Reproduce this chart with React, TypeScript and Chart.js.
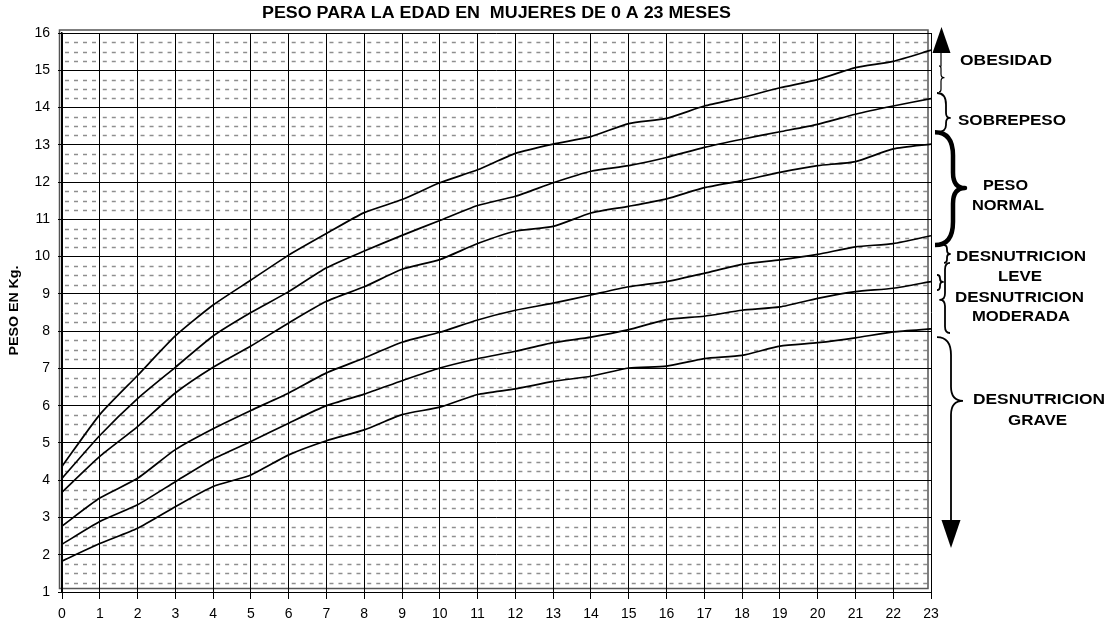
import React, { useEffect, useRef } from 'react';
import { Chart, registerables } from 'chart.js';

Chart.register(...registerables);

// ---- data ----
const months = [0, 1, 2, 3, 4, 5, 6, 7, 8, 9, 10, 11, 12, 13, 14, 15, 16, 17, 18, 19, 20, 21, 22, 23];
const curveObesidad = [4.37, 5.76, 6.81, 7.87, 8.7, 9.37, 10.04, 10.62, 11.18, 11.53, 11.98, 12.33, 12.77, 13.02, 13.22, 13.57, 13.71, 14.04, 14.27, 14.53, 14.75, 15.07, 15.24, 15.54];
const curveSobrepeso = [4.05, 5.2, 6.19, 7.03, 7.87, 8.5, 9.06, 9.7, 10.15, 10.57, 10.97, 11.37, 11.62, 11.98, 12.29, 12.44, 12.66, 12.93, 13.15, 13.35, 13.55, 13.82, 14.04, 14.24];
const curveNormalAlto = [3.68, 4.64, 5.44, 6.34, 7.03, 7.6, 8.22, 8.8, 9.19, 9.66, 9.92, 10.35, 10.68, 10.81, 11.17, 11.35, 11.55, 11.85, 12.04, 12.26, 12.44, 12.55, 12.89, 13.02];
const curveNormalBajo = [2.77, 3.52, 4.05, 4.82, 5.38, 5.87, 6.34, 6.88, 7.28, 7.7, 7.97, 8.3, 8.56, 8.75, 8.97, 9.19, 9.33, 9.55, 9.79, 9.91, 10.06, 10.26, 10.35, 10.56];
const curveModerada = [2.28, 2.89, 3.34, 3.96, 4.57, 5.04, 5.53, 6.0, 6.31, 6.67, 7.01, 7.26, 7.46, 7.69, 7.84, 8.04, 8.31, 8.4, 8.56, 8.65, 8.88, 9.06, 9.15, 9.33];
const curveGrave = [1.83, 2.3, 2.71, 3.29, 3.83, 4.14, 4.68, 5.06, 5.35, 5.76, 5.96, 6.3, 6.45, 6.65, 6.79, 7.01, 7.06, 7.26, 7.35, 7.6, 7.69, 7.82, 7.98, 8.06];
const curves = [curveObesidad, curveSobrepeso, curveNormalAlto, curveNormalBajo, curveModerada, curveGrave];

const yMin = 1;
const yMax = 16;
const xMin = 0;
const xMax = 23;

const TITLE = 'PESO PARA LA EDAD EN  MUJERES DE 0 A 23 MESES';
const Y_TITLE = 'PESO EN Kg.';

// annotation labels: text, x offset from plot right edge, y in kg units, target width
const labelTexts = ['OBESIDAD', 'SOBREPESO', 'PESO', 'NORMAL', 'DESNUTRICION', 'LEVE', 'DESNUTRICION', 'MODERADA', 'DESNUTRICION', 'GRAVE'];
const labelDx = [75, 81, 74.5, 77, 90, 89, 88.5, 90, 108, 106.5];
const labelKg = [15.25, 13.64, 11.89, 11.36, 9.99, 9.45, 8.89, 8.38, 6.15, 5.59];
const labelW = [92, 108, 45, 72, 130, 44, 129, 98, 132, 59];

const FONT = '"Liberation Sans", Arial, Helvetica, sans-serif';

function fitText(ctx: CanvasRenderingContext2D, text: string, cx: number, cy: number, width: number, size: number) {
  ctx.save();
  ctx.font = `bold ${size}px ${FONT}`;
  ctx.textAlign = 'center';
  ctx.textBaseline = 'middle';
  const m = ctx.measureText(text).width || 1;
  ctx.translate(cx, cy);
  ctx.scale(width / m, 1);
  ctx.fillText(text, 0, 0);
  ctx.restore();
}

function brace(ctx: CanvasRenderingContext2D, xEnd: number, xSpine: number, xTip: number, y1: number, yTip: number, y2: number, lw: number) {
  const dEnd = Math.abs(xSpine - xEnd);
  const dTip = Math.abs(xTip - xSpine);
  const h1 = (yTip - y1) / 2;
  const h2 = (y2 - yTip) / 2;
  const ra = Math.min(dEnd * 1.3, h1);
  const rb = Math.min(dTip * 1.3, h1);
  const rc = Math.min(dTip * 1.3, h2);
  const rd = Math.min(dEnd * 1.3, h2);
  ctx.save();
  ctx.lineWidth = lw;
  ctx.strokeStyle = '#000';
  ctx.lineJoin = 'round';
  ctx.beginPath();
  ctx.moveTo(xEnd, y1);
  ctx.quadraticCurveTo(xSpine, y1, xSpine, y1 + ra);
  ctx.lineTo(xSpine, yTip - rb);
  ctx.quadraticCurveTo(xSpine, yTip, xTip, yTip);
  ctx.quadraticCurveTo(xSpine, yTip, xSpine, yTip + rc);
  ctx.lineTo(xSpine, y2 - rd);
  ctx.quadraticCurveTo(xSpine, y2, xEnd, y2);
  ctx.stroke();
  ctx.restore();
}

function arrowHead(ctx: CanvasRenderingContext2D, cx: number, tipY: number, baseY: number, hw: number) {
  ctx.beginPath();
  ctx.moveTo(cx, tipY);
  ctx.lineTo(cx - hw, baseY);
  ctx.lineTo(cx + hw, baseY);
  ctx.closePath();
  ctx.fill();
}

const decor = {
  id: 'decor',
  beforeDraw(chart: any) {
    const { ctx, chartArea: a, scales } = chart;
    const xs = scales.x;
    const ys = scales.y;
    ctx.save();
    ctx.fillStyle = '#fff';
    ctx.fillRect(0, 0, chart.width, chart.height);
    // minor dashed grid (quarter kg)
    ctx.strokeStyle = '#8e8e8e';
    ctx.lineWidth = 1.3;
    ctx.setLineDash([4, 5]);
    for (let v = yMin; v < yMax; v += 1) {
      for (let k = 1; k < 4; k++) {
        const y = Math.round(ys.getPixelForValue(v + k / 4)) + 0.5;
        for (let m = xMin; m < xMax; m++) {
          const x0 = xs.getPixelForValue(m) + 3;
          const x1 = xs.getPixelForValue(m + 1) - 1;
          ctx.beginPath();
          ctx.moveTo(x0, y);
          ctx.lineTo(x1, y);
          ctx.stroke();
        }
      }
    }
    ctx.setLineDash([]);
    // shadow frame of the plot area
    ctx.strokeStyle = '#555';
    ctx.lineWidth = 1.5;
    ctx.strokeRect(a.left - 2.5, a.top - 3, a.right - a.left - 0.5, a.bottom - a.top - 0.5);
    ctx.restore();
  },
  afterDraw(chart: any) {
    const { ctx, chartArea: a, scales } = chart;
    const ys = scales.y;
    const py = (v: number) => ys.getPixelForValue(v);
    const R = a.right;
    ctx.save();
    ctx.fillStyle = '#000';
    ctx.strokeStyle = '#000';

    // title
    fitText(ctx, TITLE, (a.left + a.right) / 2 + 0, 14, 469, 16);
    // y-axis title
    ctx.save();
    ctx.translate(14, (a.top + a.bottom) / 2 - 2);
    ctx.rotate(-Math.PI / 2);
    fitText(ctx, Y_TITLE, 0, 0, 90, 13);
    ctx.restore();

    // up arrow + line
    arrowHead(ctx, R + 10.5, py(16.16), py(15.46), 9);
    ctx.lineWidth = 1.2;
    ctx.beginPath();
    ctx.moveTo(R + 10, py(15.46));
    ctx.lineTo(R + 10, py(15.1));
    ctx.stroke();
    // obesidad small brace
    brace(ctx, R + 8, R + 10, R + 13, py(15.12), py(14.8), py(14.42), 1.2);
    // sobrepeso
    brace(ctx, R + 6, R + 15, R + 19, py(14.39), py(13.72), py(13.34), 1.8);
    // peso normal (thick)
    brace(ctx, R + 4, R + 22, R + 34, py(13.34), py(11.84), py(10.31), 4.5);
    // leve
    brace(ctx, R + 13, R + 16, R + 19, py(10.31), py(10.07), py(9.83), 1.8);
    // small brace at moderate curve end
    brace(ctx, R + 6, R + 9, R + 12, py(9.51), py(9.32), py(9.1), 1.8);
    // moderada (opening brace)
    brace(ctx, R + 19, R + 14, R + 9, py(9.83), py(8.84), py(7.95), 1.8);

    // grave: half brace + line + down arrow
    {
      const xEnd = R + 6;
      const xSp = R + 20;
      const xTip = R + 32;
      const yTop = py(7.84);
      const yTip = py(6.13);
      const yBase = py(2.93);
      const yArrow = py(2.18);
      ctx.save();
      ctx.lineWidth = 1.8;
      ctx.beginPath();
      ctx.moveTo(xEnd, yTop);
      ctx.quadraticCurveTo(xSp, yTop, xSp, yTop + 18);
      ctx.lineTo(xSp, yTip - 14);
      ctx.quadraticCurveTo(xSp, yTip, xTip, yTip);
      ctx.quadraticCurveTo(xSp, yTip, xSp, yTip + 14);
      ctx.lineTo(xSp, yBase);
      ctx.stroke();
      ctx.restore();
      arrowHead(ctx, xSp, yArrow, yBase, 9.5);
    }

    // labels
    for (let i = 0; i < labelTexts.length; i++) {
      fitText(ctx, labelTexts[i], R + labelDx[i], py(labelKg[i]), labelW[i], 14.5);
    }
    ctx.restore();
  },
};

export default function App() {
  const ref = useRef<HTMLCanvasElement | null>(null);
  useEffect(() => {
    if (!ref.current) return;
    const chart = new Chart(ref.current, {
      type: 'line',
      data: {
        datasets: curves.map((c) => ({
          data: months.map((m, i) => ({ x: m, y: c[i] })),
          borderColor: '#000',
          borderWidth: 1.7,
          pointRadius: 0,
          tension: 0.2,
          fill: false,
        })),
      },
      options: {
        responsive: false,
        animation: false,
        devicePixelRatio: 1,
        layout: { padding: { top: 33, right: 180, left: 0, bottom: 0 } },
        plugins: { legend: { display: false }, tooltip: { enabled: false }, title: { display: false } },
        scales: {
          x: {
            type: 'linear',
            min: xMin,
            max: xMax,
            ticks: { stepSize: 1, color: '#000', font: { family: FONT, size: 14 }, padding: 7, maxRotation: 0, autoSkip: false },
            grid: { color: '#000', lineWidth: 1, tickLength: 7 },
            border: { color: '#000', width: 1 },
            afterFit(s: any) {
              s.height = 36;
            },
          },
          y: {
            min: yMin,
            max: yMax,
            ticks: { stepSize: 1, color: '#000', font: { family: FONT, size: 14 }, padding: 8, autoSkip: false },
            grid: { color: '#000', lineWidth: 1, tickLength: 4 },
            border: { color: '#000', width: 1.5 },
            afterFit(s: any) {
              s.width = 62;
            },
          },
        },
      } as any,
      plugins: [decor],
    });
    return () => chart.destroy();
  }, []);
  return (
    <div style={{ position: 'absolute', left: 0, top: 0, width: 1111, height: 628 }}>
      <canvas ref={ref} width={1111} height={628} style={{ display: 'block' }} />
    </div>
  );
}
